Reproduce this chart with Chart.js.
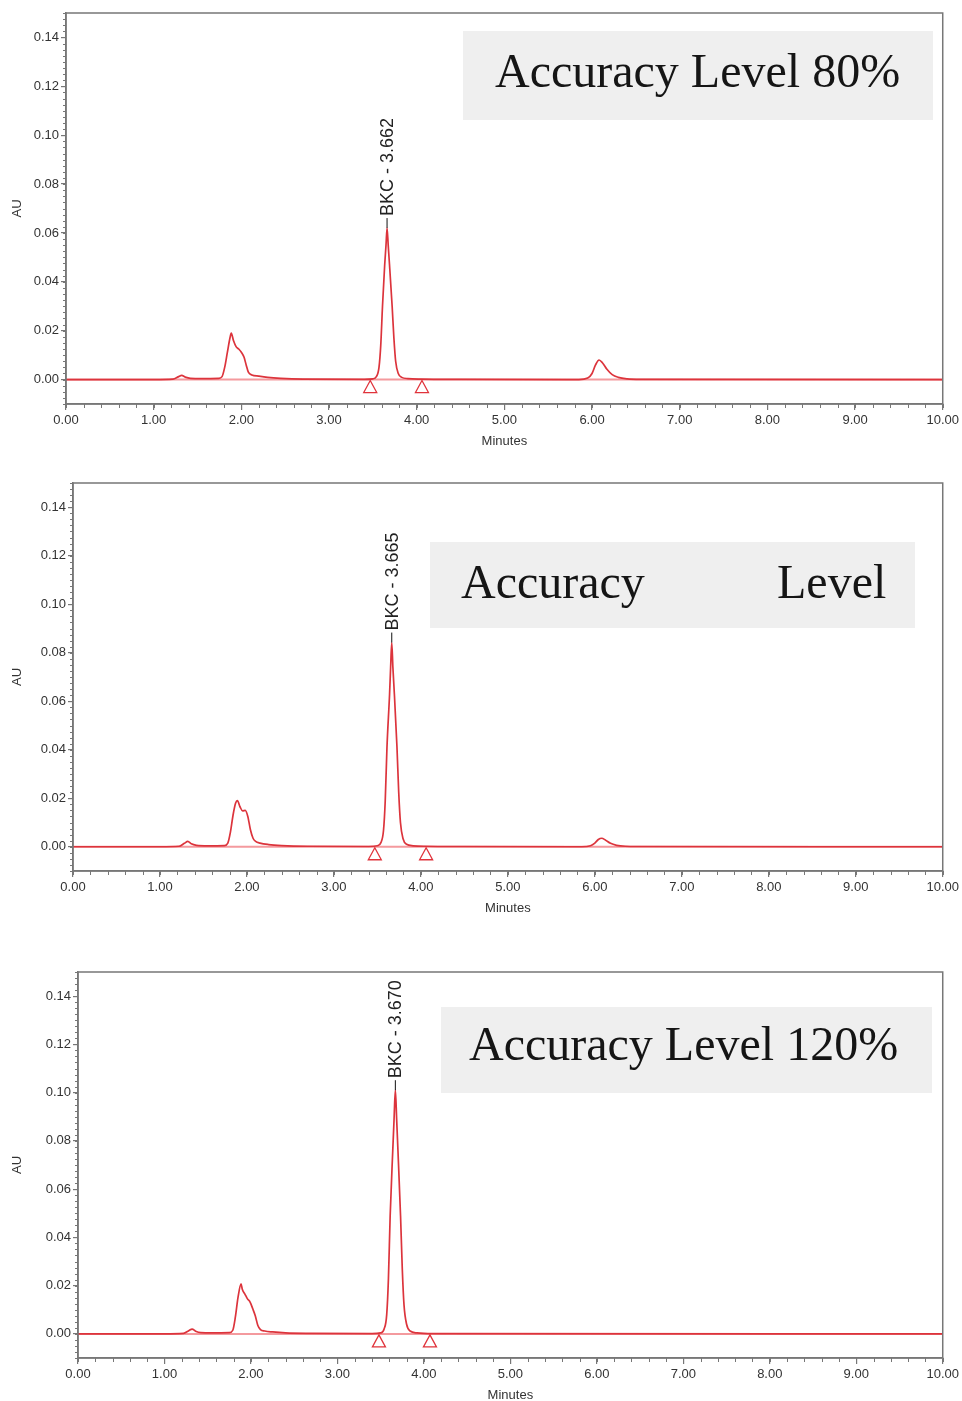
<!DOCTYPE html>
<html>
<head>
<meta charset="utf-8">
<script src="https://cdn.jsdelivr.net/npm/chart.js@4.4.0/dist/chart.umd.min.js"></script>
<style>
html, body { margin: 0; padding: 0; background: #fff; overflow: hidden; width: 962px; height: 1401px; }
canvas { position: absolute; left: 0; }
</style>
</head>
<body>
<canvas id="c1"></canvas>
<canvas id="c2"></canvas>
<canvas id="c3"></canvas>
<script>
// chromatogram traces: time in minutes, absorbance in AU
const time80 = [0, 1.00, 1.22, 1.28, 1.32, 1.36, 1.42, 1.55, 1.74, 1.78, 1.81, 1.84, 1.87, 1.885, 1.91, 1.94, 1.97, 2.00,
  2.03, 2.055, 2.08, 2.12, 2.20, 2.30, 2.45, 2.70, 3.40, 3.50, 3.54, 3.57, 3.59, 3.61, 3.635, 3.65, 3.662,
  3.675, 3.69, 3.72, 3.74, 3.76, 3.79, 3.83, 3.90, 4.05, 4.50, 5.85, 5.95, 6.00, 6.04, 6.08, 6.12,
  6.17, 6.23, 6.30, 6.40, 6.55, 10.00];
const au80 = [0, 0, 0.0002, 0.0011, 0.0017, 0.0010, 0.0005, 0.0004, 0.0005, 0.0012, 0.0050, 0.0110, 0.0170, 0.0190, 0.0160, 0.0135, 0.0125, 0.0112,
  0.0092, 0.0060, 0.0030, 0.0019, 0.0014, 0.0009, 0.0005, 0.0002, 0.0001, 0.0003, 0.0012, 0.0050, 0.0140, 0.0300, 0.0470, 0.0550, 0.0620,
  0.0550, 0.0470, 0.0300, 0.0170, 0.0075, 0.0025, 0.0009, 0.0004, 0.0002, 0.0001, 0, 0.0006, 0.0025, 0.0060, 0.0080, 0.0068,
  0.0042, 0.0020, 0.0009, 0.0003, 0.0001, 0];

const time100 = [0, 1.00, 1.22, 1.28, 1.32, 1.36, 1.42, 1.55, 1.74, 1.78, 1.81, 1.84, 1.87, 1.89, 1.92, 1.95, 1.98, 2.01,
  2.04, 2.07, 2.10, 2.15, 2.25, 2.40, 2.70, 3.40, 3.50, 3.54, 3.57, 3.59, 3.61, 3.64, 3.652, 3.665,
  3.678, 3.695, 3.725, 3.745, 3.765, 3.795, 3.835, 3.91, 4.05, 4.50, 5.85, 5.95, 6.00, 6.04, 6.08, 6.12,
  6.18, 6.25, 6.35, 6.50, 10.00];
const au100 = [0, 0, 0.0002, 0.0014, 0.0022, 0.0012, 0.0006, 0.0004, 0.0005, 0.0015, 0.0060, 0.0130, 0.0180, 0.0190, 0.0165, 0.0148, 0.0150, 0.0125,
  0.0070, 0.0035, 0.0022, 0.0015, 0.0009, 0.0005, 0.0002, 0.0001, 0.0004, 0.0017, 0.0067, 0.0190, 0.0410, 0.0630, 0.0740, 0.0842,
  0.0740, 0.0630, 0.0410, 0.0225, 0.0100, 0.0033, 0.0010, 0.0004, 0.0002, 0.0001, 0, 0.0004, 0.0015, 0.0030, 0.0035, 0.0028,
  0.0014, 0.0006, 0.0002, 0.0001, 0];

const time120 = [0, 1.00, 1.22, 1.28, 1.32, 1.36, 1.42, 1.55, 1.75, 1.79, 1.82, 1.85, 1.886, 1.90, 1.93, 1.96, 1.99, 2.02,
  2.05, 2.08, 2.11, 2.16, 2.25, 2.40, 2.70, 3.40, 3.50, 3.54, 3.57, 3.59, 3.61, 3.64, 3.655, 3.670,
  3.685, 3.70, 3.73, 3.75, 3.77, 3.80, 3.84, 3.92, 4.10, 10.00];
const au120 = [0, 0, 0.0002, 0.0013, 0.0020, 0.0011, 0.0005, 0.0004, 0.0005, 0.0015, 0.0070, 0.0150, 0.0207, 0.0185, 0.0165, 0.0145, 0.0132, 0.0105,
  0.0075, 0.0035, 0.0018, 0.0012, 0.0008, 0.0004, 0.0002, 0.0001, 0.0004, 0.0020, 0.0080, 0.0230, 0.0490, 0.0760, 0.0890, 0.1010,
  0.0890, 0.0760, 0.0490, 0.0270, 0.0120, 0.0040, 0.0012, 0.0004, 0.0001, 0];

const xTicks = [0, 1, 2, 3, 4, 5, 6, 7, 8, 9, 10];
const yTicks = [0, 0.02, 0.04, 0.06, 0.08, 0.10, 0.12, 0.14];

const peakTimes = [3.662, 3.665, 3.670];
const peakNames = ['BKC - 3.662', 'BKC - 3.665', 'BKC - 3.670'];
const markTimes = [[3.47, 4.06], [3.47, 4.06], [3.48, 4.07]];
const levelWords = [['Accuracy Level 80%'], ['Accuracy', 'Level'], ['Accuracy Level 120%']];

// layout of the three panels on the page (pixels)
const panels = [
  { id: 'c1', top: 0, height: 462, area: { left: 66, top: 13, right: 943, bottom: 404 },
    box: [463, 31, 933, 120], wordX: [495], wordY: 87 },
  { id: 'c2', top: 462, height: 470, area: { left: 73, top: 483, right: 945, bottom: 871 },
    box: [430, 542, 915, 628], wordX: [461, 777], wordY: 598 },
  { id: 'c3', top: 935, height: 470, area: { left: 78, top: 972, right: 946, bottom: 1358 },
    box: [441, 1007, 932, 1093], wordX: [469], wordY: 1060 }
];
const traces = [[time80, au80], [time100, au100], [time120, au120]];

const axisFont = { family: '"Liberation Sans", Arial, sans-serif', size: 13 };
const axisColor = '#777';

const chromPlugin = {
  id: 'chrom',
  beforeDatasetsDraw(chart, args, o) {
    const ctx = chart.ctx;
    const p = o.panel;
    ctx.save();
    ctx.fillStyle = '#efefef';
    ctx.fillRect(p.box[0], p.box[1] - p.top, p.box[2] - p.box[0], p.box[3] - p.box[1]);
    ctx.font = '48px "Liberation Serif", "Times New Roman", serif';
    ctx.fillStyle = '#151515';
    ctx.textBaseline = 'alphabetic';
    o.words.forEach((w, i) => ctx.fillText(w, p.wordX[i], p.wordY - p.top));
    ctx.restore();
  },
  afterDraw(chart, args, o) {
    const ctx = chart.ctx;
    const xs = chart.scales.x, ys = chart.scales.y;
    const a = chart.chartArea;
    ctx.save();
    // frame
    ctx.strokeStyle = axisColor;
    ctx.lineWidth = 1.5;
    ctx.strokeRect(a.left, a.top, a.right - a.left, a.bottom - a.top);
    // minor ticks
    ctx.lineWidth = 1;
    ctx.beginPath();
    for (let i = 0; i <= 64; i++) {
      const v = -0.01 + i * 0.0025;
      const y = Math.round(ys.getPixelForValue(v)) + 0.5;
      ctx.moveTo(a.left - 3, y); ctx.lineTo(a.left, y);
    }
    for (let i = 0; i <= 50; i++) {
      const x = Math.round(xs.getPixelForValue(i * 0.2)) + 0.5;
      ctx.moveTo(x, a.bottom); ctx.lineTo(x, a.bottom + 4);
    }
    ctx.stroke();
    // integration start / end markers
    const y0 = ys.getPixelForValue(0);
    ctx.strokeStyle = '#e0333b';
    ctx.lineWidth = 1.3;
    o.marks.forEach(t => {
      const x = xs.getPixelForValue(t);
      ctx.beginPath();
      ctx.moveTo(x, y0 + 1);
      ctx.lineTo(x + 6.5, y0 + 13);
      ctx.lineTo(x - 6.5, y0 + 13);
      ctx.closePath();
      ctx.stroke();
    });
    // peak label
    const data = chart.data.datasets[0].data;
    const apex = data.reduce((m, d) => d.y > m.y ? d : m, data[0]);
    const px = xs.getPixelForValue(o.peakTime);
    const py = ys.getPixelForValue(apex.y);
    ctx.strokeStyle = '#111';
    ctx.lineWidth = 1;
    ctx.beginPath();
    ctx.moveTo(px, py); ctx.lineTo(px, py - 10);
    ctx.stroke();
    ctx.translate(px, py - 12);
    ctx.rotate(-Math.PI / 2);
    ctx.font = '18px "Liberation Sans", Arial, sans-serif';
    ctx.fillStyle = '#222';
    ctx.textAlign = 'left';
    ctx.textBaseline = 'middle';
    ctx.fillText(o.peakName, 0, 1);
    ctx.restore();
  }
};

panels.forEach((p, i) => {
  const cv = document.getElementById(p.id);
  cv.width = 962;
  cv.height = p.height;
  cv.style.top = p.top + 'px';
  const xAxisH = 46;
  const [tx, ty] = traces[i];
  new Chart(cv.getContext('2d'), {
    type: 'line',
    data: {
      datasets: [{
        data: tx.map((t, k) => ({ x: t, y: ty[k] })),
        borderColor: '#dc343c',
        borderWidth: 1.7,
        pointRadius: 0,
        cubicInterpolationMode: 'monotone',
        fill: false
      }, {
        data: [{ x: 0, y: 0 }, { x: 10, y: 0 }],
        borderColor: 'rgba(240,120,125,0.75)',
        borderWidth: 2,
        pointRadius: 0
      }]
    },
    options: {
      responsive: false,
      animation: false,
      devicePixelRatio: 1,
      layout: { padding: { left: 0, top: p.area.top - p.top, right: 962 - p.area.right,
        bottom: p.height - (p.area.bottom - p.top) - xAxisH } },
      plugins: {
        legend: { display: false },
        tooltip: { enabled: false },
        chrom: { panel: p, words: levelWords[i], marks: markTimes[i], peakTime: peakTimes[i], peakName: peakNames[i] }
      },
      scales: {
        x: {
          type: 'linear', min: 0, max: 10,
          afterBuildTicks: s => { s.ticks = xTicks.map(v => ({ value: v })); },
          afterFit: s => { s.height = xAxisH; },
          ticks: { callback: v => v.toFixed(2), font: axisFont, color: '#333', padding: 3, maxRotation: 0, autoSkip: false },
          grid: { display: true, drawOnChartArea: false, drawTicks: true, tickLength: 6, color: axisColor, lineWidth: 1.2 },
          border: { display: true, color: axisColor, width: 1.5 },
          title: { display: true, text: 'Minutes', font: axisFont, color: '#333', padding: { top: 0, bottom: 1 } }
        },
        y: {
          type: 'linear', min: -0.01, max: 0.15,
          afterBuildTicks: s => { s.ticks = yTicks.map(v => ({ value: v })); },
          afterFit: s => { s.width = p.area.left; },
          ticks: { callback: v => v.toFixed(2), font: axisFont, color: '#333', padding: 2 },
          grid: { display: true, drawOnChartArea: false, drawTicks: true, tickLength: 5, color: axisColor, lineWidth: 1.2 },
          border: { display: true, color: axisColor, width: 1.5 },
          title: { display: true, text: 'AU', font: axisFont, color: '#333', padding: { top: 10, bottom: 0 } }
        }
      }
    },
    plugins: [chromPlugin]
  });
});
</script>
</body>
</html>
